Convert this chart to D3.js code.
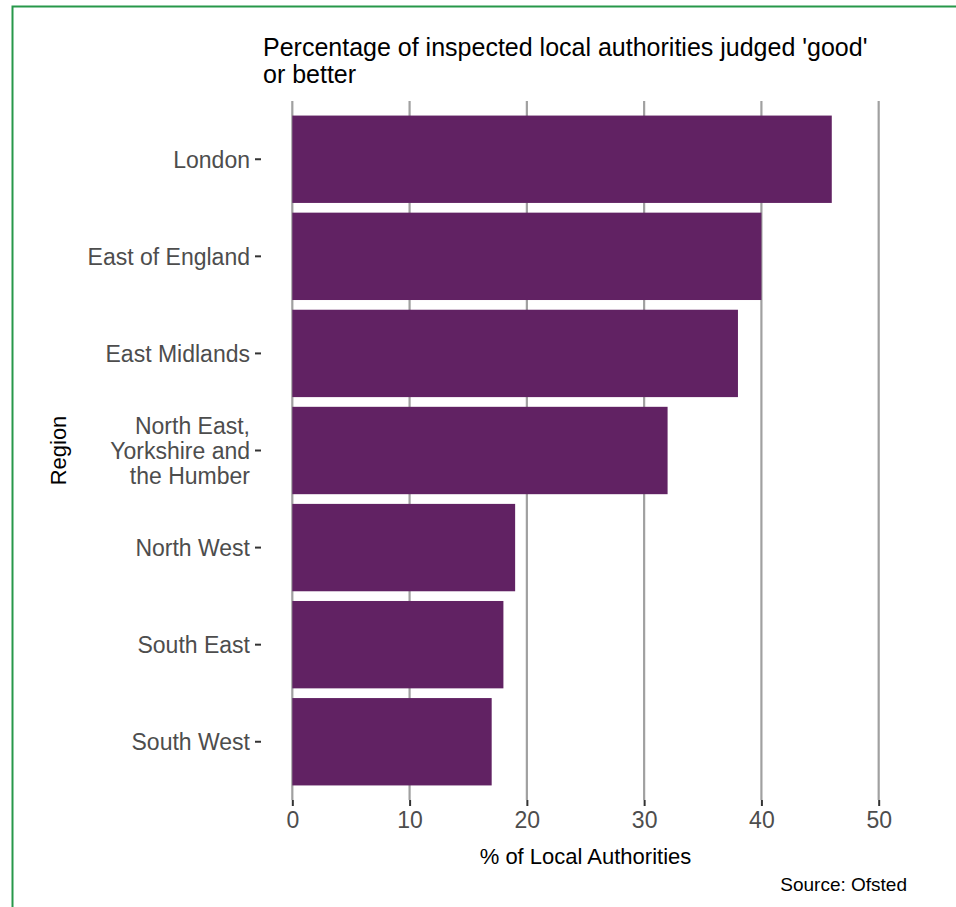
<!DOCTYPE html>
<html>
<head>
<meta charset="utf-8">
<script src="https://cdn.jsdelivr.net/npm/d3@7"></script>
<style>
  html, body { margin: 0; padding: 0; background: #ffffff; }
  svg { display: block; font-family: "Liberation Sans", Arial, sans-serif; }
</style>
</head>
<body>
<svg id="chart" width="956" height="907"></svg>
<script>
// ---- data ----
const regions = ["London", "East of England", "East Midlands", "North East, Yorkshire and the Humber", "North West", "South East", "South West"];
const regionLines = [["London"], ["East of England"], ["East Midlands"], ["North East,", "Yorkshire and", "the Humber"], ["North West"], ["South East"], ["South West"]];
const percentGood = [46, 40, 38, 32, 19, 18, 17];
const xTicks = [0, 10, 20, 30, 40, 50];
const titleLines = ["Percentage of inspected local authorities judged 'good'", "or better"];
const xTitle = "% of Local Authorities";
const yTitle = "Region";
const sourceText = "Source: Ofsted";

// ---- layout ----
const svg = d3.select("#chart");
const panel = { left: 263, right: 908, top: 101, bottom: 800 };

// outer green frame
svg.append("rect")
  .attr("x", 12.5).attr("y", 6.5)
  .attr("width", 1000).attr("height", 1000)
  .attr("fill", "none")
  .attr("stroke", "#27984a")
  .attr("stroke-width", 2);

const x = d3.scaleLinear().domain([-2.5, 52.5]).range([panel.left, panel.right]);
const y = d3.scaleBand().domain(regions).range([panel.top, panel.bottom]).paddingInner(0.1).paddingOuter(0.15);

// gridlines
svg.append("g").selectAll("line").data(xTicks).join("line")
  .attr("x1", d => x(d)).attr("x2", d => x(d))
  .attr("y1", panel.top).attr("y2", panel.bottom)
  .attr("stroke", "#a0a0a0").attr("stroke-width", 2.2);

// bars
const data = regions.map((r, i) => ({ region: r, value: percentGood[i] }));
svg.append("g").selectAll("rect").data(data).join("rect")
  .attr("x", x(0))
  .attr("y", d => y(d.region))
  .attr("width", d => x(d.value) - x(0))
  .attr("height", y.bandwidth())
  .attr("fill", "#612263");

// x axis
const xAxis = d3.axisBottom(x).tickValues(xTicks).tickSize(6).tickPadding(6).tickFormat(d3.format("d"));
const gx = svg.append("g").attr("transform", `translate(0,${panel.bottom})`).call(xAxis);
gx.select(".domain").remove();
gx.selectAll(".tick line").attr("stroke", "#333333").attr("stroke-width", 2);
gx.selectAll(".tick text").attr("fill", "#4d4d4d").attr("font-size", 23).attr("font-family", "Liberation Sans, Arial, sans-serif").attr("dy", "0.71em");

// y axis
const yAxis = d3.axisLeft(y).tickSize(6).tickPadding(6).tickFormat("");
const gy = svg.append("g").attr("transform", `translate(${panel.left - 2},0)`).call(yAxis);
gy.select(".domain").remove();
gy.selectAll(".tick line").attr("stroke", "#333333").attr("stroke-width", 2);
gy.selectAll(".tick text").remove();
gy.selectAll(".tick").each(function(d, i) {
  const lines = regionLines[i];
  const lh = 25;
  const t = d3.select(this).append("text")
    .attr("text-anchor", "end")
    .attr("fill", "#4d4d4d")
    .attr("font-size", 23)
    .attr("font-family", "Liberation Sans, Arial, sans-serif");
  lines.forEach((ln, k) => {
    t.append("tspan")
      .attr("x", -11)
      .attr("y", (k - (lines.length - 1) / 2) * lh)
      .attr("dy", "0.36em")
      .text(ln);
  });
});

// titles
const title = svg.append("text").attr("x", panel.left).attr("font-size", 25).attr("fill", "#000");
titleLines.forEach((ln, k) => {
  title.append("tspan").attr("x", panel.left).attr("y", 56 + k * 26.5).text(ln);
});

svg.append("text")
  .attr("x", (panel.left + panel.right) / 2).attr("y", 864)
  .attr("text-anchor", "middle").attr("font-size", 22).attr("fill", "#000")
  .text(xTitle);

svg.append("text")
  .attr("transform", `translate(66,${(panel.top + panel.bottom) / 2}) rotate(-90)`)
  .attr("text-anchor", "middle").attr("font-size", 22).attr("fill", "#000")
  .text(yTitle);

svg.append("text")
  .attr("x", panel.right - 1).attr("y", 891)
  .attr("text-anchor", "end").attr("font-size", 19).attr("fill", "#000")
  .text(sourceText);
</script>
</body>
</html>
